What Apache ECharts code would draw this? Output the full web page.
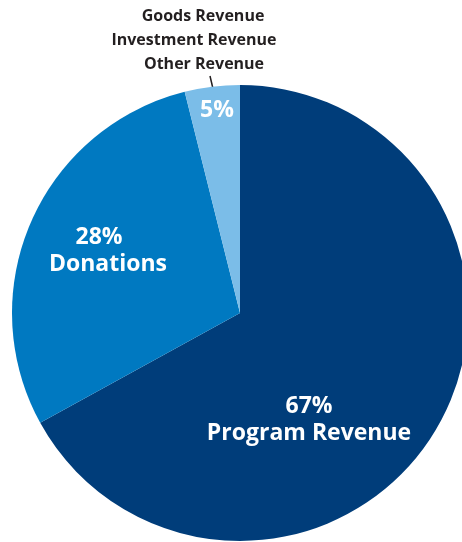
<!DOCTYPE html>
<html>
<head>
<meta charset="utf-8">
<script src="https://cdn.jsdelivr.net/npm/echarts@6/dist/echarts.min.js"></script>
<style>
html,body{margin:0;padding:0;background:#fff;}
#chart{width:462px;height:542px;}
</style>
</head>
<body>
<div id="chart"></div>
<script>
var categories = ['Program Revenue', 'Donations', 'Other Revenue'];
var values = [67.0, 29.1, 3.9];
var printedPercents = ['67%', '28%', '5%'];
var sliceColors = ['#003d7a', '#0079c1', '#7bbde8'];
var outsideLabels = ['Goods Revenue', 'Investment Revenue', 'Other Revenue'];

// label anchor positions (presentation only)
var labelPos = [[309, 420], [108, 251], [217, 110]];
var outsideLabelPos = [[203, 16], [194, 40], [204, 64]];

var chart = echarts.init(document.getElementById('chart'), null, {renderer: 'canvas'});

var pieData = categories.map(function (c, i) {
  var fmt;
  if (i === 2) fmt = printedPercents[i];
  else if (i === 1) fmt = '{p|' + printedPercents[i] + '}\n' + c;
  else fmt = printedPercents[i] + '\n' + c;
  return {
    name: c,
    value: values[i],
    itemStyle: {color: sliceColors[i]},
    label: {formatter: fmt}
  };
});

var graphics = outsideLabels.map(function (t, i) {
  return {
    type: 'text',
    x: outsideLabelPos[i][0],
    y: outsideLabelPos[i][1],
    style: {
      text: t,
      fill: '#231f20',
      font: 'bold 16px "Open Sans"',
      align: 'center',
      verticalAlign: 'middle'
    }
  };
});
graphics.push({
  type: 'line',
  shape: {x1: 210, y1: 76, x2: 214, y2: 93},
  style: {stroke: '#231f20', lineWidth: 1.5}
});

chart.setOption({
  animation: false,
  series: [{
    type: 'pie',
    center: [240, 313],
    radius: [0, 228],
    startAngle: 90,
    clockwise: true,
    silent: true,
    itemStyle: {borderWidth: 0},
    label: {
      show: true,
      position: 'inside',
      color: '#ffffff',
      fontFamily: 'Open Sans',
      fontWeight: 'bold',
      fontSize: 23,
      lineHeight: 27,
      align: 'center',
      rich: {
        p: {
          color: '#ffffff',
          fontFamily: 'Open Sans',
          fontWeight: 'bold',
          fontSize: 23,
          lineHeight: 27,
          padding: [0, 18, 0, 0]
        }
      }
    },
    labelLine: {show: false},
    labelLayout: function (p) {
      return {x: labelPos[p.dataIndex][0], y: labelPos[p.dataIndex][1], align: 'center', verticalAlign: 'middle'};
    },
    data: pieData
  }],
  graphic: graphics
});
</script>
</body>
</html>
